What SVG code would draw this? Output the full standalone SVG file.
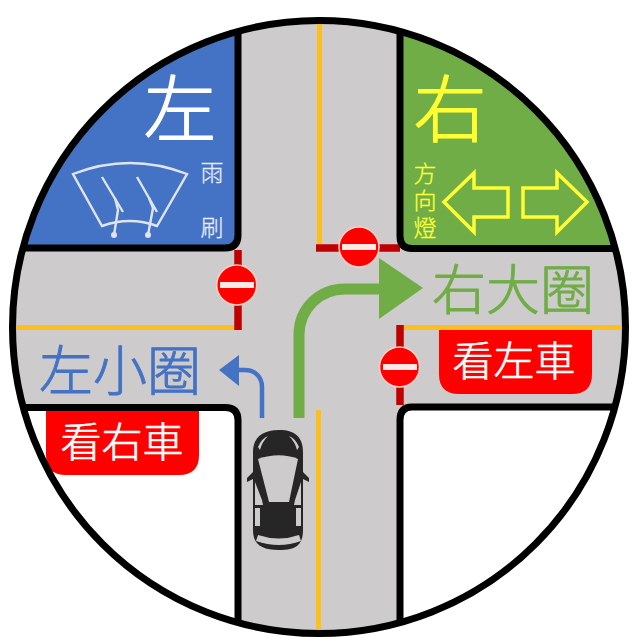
<svg xmlns="http://www.w3.org/2000/svg" width="635" height="643" viewBox="0 0 635 643">
<style>
text{font-family:"Noto Sans CJK TC","Noto Sans",sans-serif;text-anchor:middle;font-weight:300;stroke-linejoin:round;stroke-linecap:round}
.ln{fill:none;stroke:#000;stroke-width:7}
.wp{fill:none;stroke:#dfe5f0;stroke-width:2.4}
.ya{fill:none;stroke:#ffff33;stroke-width:3.5}
.yl{fill:none;stroke:#fcbf1e;stroke-width:5}
.rd{fill:none;stroke:#c00000;stroke-width:7.5}
.sg circle{fill:#fe0000;stroke:#ffd0c8;stroke-width:1.5}
.sg rect{fill:#ffe9e4}
.red{fill:#fe0000}
.w{fill:#fff;stroke:#fff;stroke-width:.6;font-size:41px}
.car{fill:#262626}
.cw{fill:#cdcbcb}
</style>
<defs>
<clipPath id="c"><circle cx="319" cy="327" r="306"/></clipPath>
</defs>
<rect width="635" height="643" fill="#fff"/>
<g id="road" clip-path="url(#c)">
<rect x="0" y="0" width="635" height="643" fill="#cdcbcb"/>
<path d="M-10 -10H238V235Q238 248 225 248H-10Z" fill="#4472c4"/>
<path d="M640 -10H400V236Q400 248.500 412 248.500H640Z" fill="#70ad47"/>
<path d="M-10 407.500H225Q238 407.500 238 420V650H-10Z" fill="#fff"/>
<path d="M640 407H412Q400 407 400 420V650H640Z" fill="#fff"/>
</g>
<g id="red-panels">
<path class="red" d="M46 411H199V455Q199 475 179 475H66Q46 475 46 455Z"/>
<path class="red" d="M439 330H592V374Q592 394 572 394H459Q439 394 439 374Z"/>
</g>
<g id="connectors">
<g clip-path="url(#c)">
<path class="yl" d="M319.500 20V248"/>
<path class="yl" d="M318.500 410V640"/>
<path class="yl" d="M10 327.500H236"/>
<path class="yl" d="M402 327.500H630"/>
<path class="rd" d="M238 250V330"/>
<path class="rd" d="M316 248H400"/>
<path class="rd" d="M400 325V405"/>
<path class="ln" d="M-10 -10H238V235Q238 248 225 248H-10"/>
<path class="ln" d="M640 -10H400V236Q400 248.500 412 248.500H640"/>
<path class="ln" d="M-10 407.500H225Q238 407.500 238 420V650"/>
<path class="ln" d="M640 407H412Q400 407 400 420V650"/>
</g>
<circle cx="319" cy="327" r="306.500" fill="none" stroke="#000" stroke-width="7"/>
<path d="M299 418V335C299 309 319 289 345 289H382" fill="none" stroke="#70ad47" stroke-width="11"/>
<path d="M379 258L423 288L379 319Z" fill="#70ad47"/>
<path d="M262 418V387C262 377 255 370 245 370H236" fill="none" stroke="#4472c4" stroke-width="4.500"/>
<path d="M219 370L239 355V386Z" fill="#4472c4"/>
</g>
<g id="sign-1" class="sg"><circle cx="236.700" cy="285" r="20"/><rect x="220" y="282" width="34" height="6"/></g>
<g id="sign-2" class="sg"><circle cx="359" cy="247" r="20"/><rect x="342" y="244" width="34" height="6"/></g>
<g id="sign-3" class="sg"><circle cx="399.500" cy="367" r="20"/><rect x="383" y="364" width="34" height="6"/></g>
<g id="left-panel">
<text x="180" y="136" font-size="73" fill="#fff" stroke="#fff" stroke-width="1.200">左</text>
<text x="212" y="181" font-size="23" fill="#e6ebf5" stroke="#e6ebf5" stroke-width=".3">雨</text>
<text x="212" y="236" font-size="23" fill="#e6ebf5" stroke="#e6ebf5" stroke-width=".3">刷</text>
<path class="wp" d="M73 174Q130 152 187 174L157 226Q130 216 102 226Z"/>
<path class="wp" d="M102 177L123 212M137 177L157 212"/>
<path class="wp" d="M115 198L118 210L114 235M149 198L153 208L148 235"/>
<circle cx="114" cy="235" r="3" fill="#dfe5f0"/>
<circle cx="148" cy="235" r="3" fill="#dfe5f0"/>
</g>
<g id="right-panel">
<text x="450" y="136" font-size="73" fill="#ffff33" stroke="#ffff33" stroke-width="1.200">右</text>
<text x="425" y="162" font-size="23" fill="#ffff33" stroke="#ffff33" stroke-width=".3" style="writing-mode:vertical-rl;text-anchor:start;letter-spacing:4px">方向燈</text>
<path class="ya" d="M444 202L474 173V188H508V217H474V232Z"/>
<path class="ya" d="M587 202L557 173V188H523V217H557V232Z"/>
</g>
<g id="label-left"><text x="120" y="391" font-size="54" fill="#4472c4" stroke="#4472c4" stroke-width=".9">左小圈</text></g>
<g id="label-right"><text x="513" y="310" font-size="54" fill="#70ad47" stroke="#70ad47" stroke-width=".9">右大圈</text></g>
<g id="label-look-right"><text class="w" x="122" y="457">看右車</text></g>
<g id="label-look-left"><text class="w" x="514" y="376">看左車</text></g>
<g id="car">
<path class="car" d="M279 430C262 430 253 438 253 452V472L247 478V482L253 479V530C253 545 262 550 279 550C296 550 303 545 303 530V479L309 482V478L303 472V452C303 438 296 430 279 430Z"/>
<path class="cw" d="M258 459C272 454 286 454 298 459L289 502H269Z"/>
<path class="cw" d="M255 482L262 500L263 505H255ZM301 482L295 500L294 505H301Z"/>
<path class="cw" d="M255 508H260V526H255ZM296 508H301V526H296Z"/>
<path class="cw" d="M258 535Q279 542 299 535L301 541Q279 549 256 541Z"/>
<path class="cw" d="M258 447Q262 438 268 436Q262 442 260 450ZM299 447Q295 438 289 436Q295 442 297 450Z"/>
</g>
</svg>
